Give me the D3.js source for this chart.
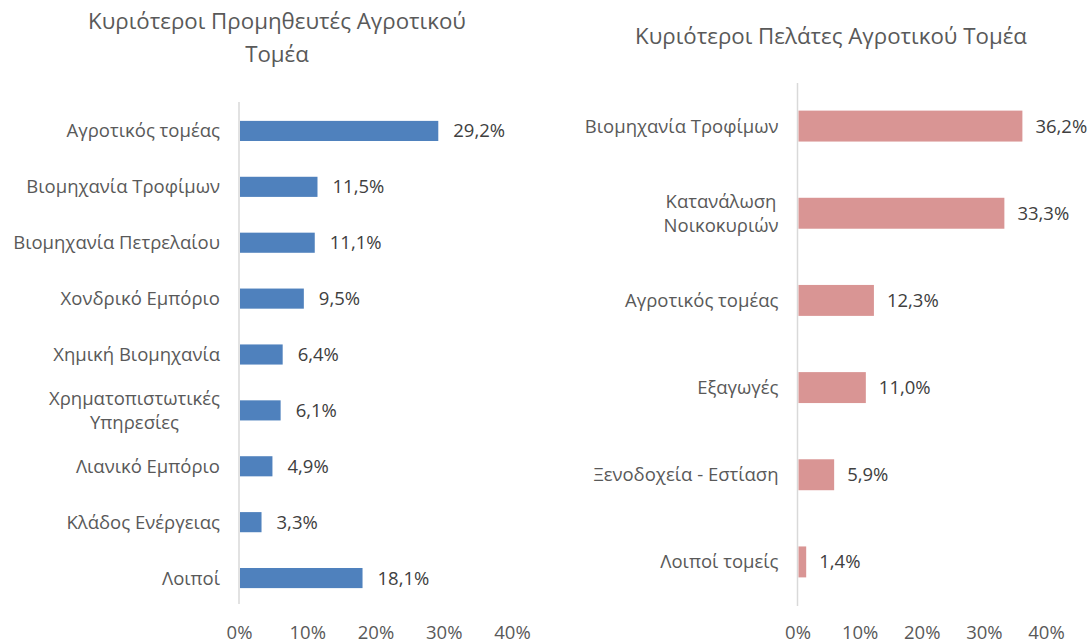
<!DOCTYPE html>
<html><head><meta charset="utf-8">
<script src="https://cdn.jsdelivr.net/npm/d3@7"></script>
<style>body{margin:0;background:#fff}svg{display:block}text{font-family:"Open Sans",sans-serif;fill:#595959}</style>
</head><body><svg id="c" width="1091" height="644"></svg>
<script>
const supplierCategories = ["Αγροτικός τομέας","Βιομηχανία Τροφίμων","Βιομηχανία Πετρελαίου","Χονδρικό Εμπόριο","Χημική Βιομηχανία","Χρηματοπιστωτικές\nΥπηρεσίες","Λιανικό Εμπόριο","Κλάδος Ενέργειας","Λοιποί"];
const supplierValues = [29.2,11.5,11.1,9.5,6.4,6.1,4.9,3.3,18.1];
const customerCategories = ["Βιομηχανία Τροφίμων","Κατανάλωση\nΝοικοκυριών","Αγροτικός τομέας","Εξαγωγές","Ξενοδοχεία - Εστίαση","Λοιποί τομείς"];
const customerValues = [36.2,33.3,12.3,11.0,5.9,1.4];
const xTicks = [0,10,20,30,40];
const titles = [["Κυριότεροι Προμηθευτές Αγροτικού","Τομέα"],["Κυριότεροι Πελάτες Αγροτικού Τομέα"]];

const svg = d3.select("#c");
const fmt = v => v.toFixed(1).replace(".", ",") + "%";
const FS = "18.5px";

function panel(cfg){
  const g = svg.append("g");
  const x = d3.scaleLinear().domain([0,40]).range([cfg.x0, cfg.x1]);
  const y = d3.scaleBand().domain(cfg.cats).range([cfg.y0, cfg.y1]).paddingInner(cfg.pad).paddingOuter(cfg.pad/2);
  const t = g.append("text").attr("text-anchor","middle").style("font-size","22.3px");
  cfg.title.forEach((line,i)=>t.append("tspan").attr("x",cfg.tx).attr("y",cfg.ty+i*33).text(line));
  g.append("line").attr("x1",x(0)).attr("x2",x(0)).attr("y1",cfg.ay0).attr("y2",cfg.ay1)
    .attr("stroke","#d9d9d9").attr("stroke-width",1.5);
  g.selectAll("rect").data(cfg.vals).join("rect")
    .attr("x",x(0)+1).attr("y",(d,i)=>y(cfg.cats[i]))
    .attr("width",d=>x(d)-x(0)-1).attr("height",y.bandwidth())
    .attr("fill",cfg.color);
  g.selectAll("text.v").data(cfg.vals).join("text").attr("class","v")
    .attr("x",d=>x(d)+cfg.vOff).attr("y",(d,i)=>y(cfg.cats[i])+y.bandwidth()/2)
    .attr("dy","0.35em").style("font-size",FS).style("fill","#404040").text(fmt);
  cfg.cats.forEach(c=>{
    const lines = c.split("\n");
    const cy = y(c)+y.bandwidth()/2;
    const right = x(0)-19;
    if (lines.length === 1) {
      g.append("text").attr("text-anchor","end").style("font-size",FS)
        .attr("x",right).attr("y",cy).attr("dy","0.35em").text(c);
    } else {
      const tt = g.append("text").attr("text-anchor","middle").style("font-size",FS);
      const spans = lines.map((l,i)=>tt.append("tspan").attr("x",0)
        .attr("y",cy + (i-(lines.length-1)/2)*24).attr("dy","0.35em").text(l));
      const w = d3.max(spans, s=>s.node().getComputedTextLength());
      spans.forEach(s=>s.attr("x", right - w/2));
    }
  });
  const ax = d3.axisBottom(x).tickValues(xTicks).tickFormat(d=>d+"%").tickSize(0).tickPadding(0);
  const axg = g.append("g").attr("transform",`translate(0,${cfg.tickY})`).call(ax);
  axg.select(".domain").remove();
  axg.selectAll("text").style("font-size",FS).style("font-family","'Open Sans',sans-serif").attr("fill","#595959").attr("dy","0.35em").attr("y",0);
}

panel({cats:supplierCategories, vals:supplierValues, x0:239, x1:512, y0:103, y1:606, pad:0.64,
  color:"#4f81bd", title:titles[0], tx:277, ty:29, ay0:102, ay1:604, vOff:15, tickY:633});
panel({cats:customerCategories, vals:customerValues, x0:797.5, x1:1046, y0:82.5, y1:605.5, pad:0.645,
  color:"#d99594", title:titles[1], tx:831, ty:44, ay0:83, ay1:606, vOff:13, tickY:633});
</script></body></html>
